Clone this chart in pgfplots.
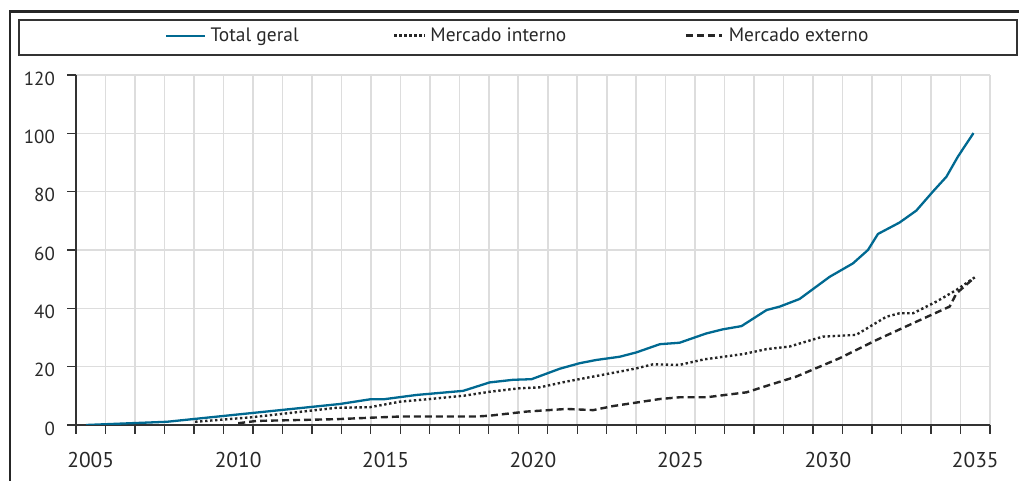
\documentclass[border=0pt]{standalone}
\usepackage{fontspec}
\setmainfont{PT Sans}
\usepackage{pgfplots}
\pgfplotsset{compat=1.18}
\definecolor{tblue}{RGB}{0,105,145}
\definecolor{gridgray}{RGB}{221,221,221}
\definecolor{axgray}{RGB}{51,51,51}
\definecolor{txt}{RGB}{40,40,40}

\pgfplotstableread{
x y
2004.84 0
2007.58 1.1
2013.45 7.2
2014.47 8.8
2014.92 8.8
2016.05 10.3
2017.63 11.7
2018.53 14.6
2019.33 15.5
2019.95 15.7
2020.91 19.3
2021.59 21.2
2022.15 22.3
2022.94 23.4
2023.51 24.9
2024.30 27.7
2024.97 28.2
2025.88 31.4
2026.44 32.8
2027.07 33.9
2027.92 39.4
2028.37 40.6
2029.04 43.2
2030.06 50.8
2030.85 55.4
2031.36 60.0
2031.70 65.5
2032.43 69.4
2033.00 73.5
2033.56 80.0
2034.02 85.1
2034.41 92.0
2034.94 100.1
}\total

\pgfplotstableread{
x y
2008.54 1.1
2010.40 2.6
2013.34 5.9
2014.47 6.1
2015.49 8.0
2016.50 8.9
2017.70 10.1
2018.53 11.4
2019.55 12.6
2020.22 12.9
2021.14 14.9
2022.04 16.6
2022.94 18.3
2023.50 19.4
2024.07 20.8
2024.97 20.6
2025.80 22.5
2027.12 24.3
2027.92 26.0
2028.70 26.9
2029.83 30.3
2030.96 30.9
2031.98 37.1
2032.43 38.3
2032.89 38.3
2033.68 42.3
2034.36 46.3
2034.98 50.6
}\interno

\pgfplotstableread{
x y
2010.00 0.6
2010.63 1.4
2013.34 2.0
2014.50 2.5
2015.49 2.9
2018.08 2.9
2018.53 3.2
2019.78 4.6
2021.14 5.5
2022.04 5.1
2022.72 6.5
2024.30 8.9
2024.97 9.5
2025.88 9.5
2027.24 11.2
2027.92 13.4
2028.93 16.6
2030.40 22.9
2031.64 29.1
2033.00 35.4
2034.13 40.6
2034.36 45.1
2034.98 50.6
}\externo

\pgfplotsset{
  leglineA/.style={legend image code/.code={\draw[##1] (0bp,0bp) -- (39bp,0bp);}},
  leglineB/.style={legend image code/.code={\draw[##1] (0bp,0bp) -- (31bp,0bp);}},
  leglineC/.style={legend image code/.code={\draw[##1] (0bp,0bp) -- (36bp,0bp);}},
}

\begin{document}
\begin{tikzpicture}[x=1bp,y=1bp]
\useasboundingbox (0,0) rectangle (1019,481);
\draw[line width=2.2bp, color=black!85] (10,0) -- (10,469.5) -- (1019,469.5);
\draw[line width=1.2bp, color=axgray] (19,426) rectangle (1017,461);
\begin{axis}[
  at={(76bp,56bp)}, anchor=south west,
  width=914bp, height=350bp, scale only axis,
  xmin=2004.5, xmax=2035.5, ymin=0, ymax=120,
  axis lines*=left,
  axis line style={color=axgray, line width=1.3bp},
  tick align=outside,
  xtick={2004.5,2005.5,2006.5,2007.5,2008.5,2009.5,2010.5,2011.5,2012.5,2013.5,2014.5,2015.5,2016.5,2017.5,2018.5,2019.5,2020.5,2021.5,2022.5,2023.5,2024.5,2025.5,2026.5,2027.5,2028.5,2029.5,2030.5,2031.5,2032.5,2033.5,2034.5,2035.5},
  xticklabels={2005,,,,,2010,,,,,2015,,,,,2020,,,,,2025,,,,,2030,,,,,2035,},
  xticklabel style={font=\fontsize{21.5}{24}\selectfont, color=txt, inner sep=0pt, anchor=base, xshift=14.74bp, yshift=-33.3bp},
  ytick={0,20,40,60,80,100,120},
  major tick length=9bp,
  every tick/.style={color=axgray, line width=1.3bp},
  xmajorgrids=true, ymajorgrids=true,
  grid style={color=gridgray, line width=1.6bp},
  /pgf/number format/assume math mode=true,
  /pgf/number format/1000 sep={},
  yticklabel style={font=\fontsize{19}{22}\selectfont, color=txt, inner sep=0pt, anchor=east, xshift=-12bp, yshift=-3.5bp},
  legend columns=3,
  legend style={draw=none, fill=none, at={(0.09737,1.1123)}, anchor=west,
    font=\fontsize{19.5}{22}\selectfont, text=txt, inner sep=0pt, outer sep=0pt,
    nodes={inner sep=0pt},
    /tikz/column 1/.style={column sep=4.4bp},
    /tikz/column 2/.style={column sep=0bp},
    /tikz/column 3/.style={column sep=3.7bp},
    /tikz/column 4/.style={column sep=0bp},
    /tikz/column 5/.style={column sep=5.7bp}},
]
\addplot[color=tblue, line width=2.3bp, leglineA] table[x=x,y=y]{\total};
\addlegendentry{\makebox[182.6bp][l]{Total geral}}
\addplot[color=black!85, line width=2.4bp, dash pattern=on 2.4bp off 2.6bp, leglineB] table[x=x,y=y]{\interno};
\addlegendentry{\makebox[254.3bp][l]{Mercado interno}}
\addplot[color=black!85, line width=2.4bp, dash pattern=on 7bp off 4bp, leglineC] table[x=x,y=y]{\externo};
\addlegendentry{Mercado externo}
\end{axis}
\end{tikzpicture}
\end{document}
